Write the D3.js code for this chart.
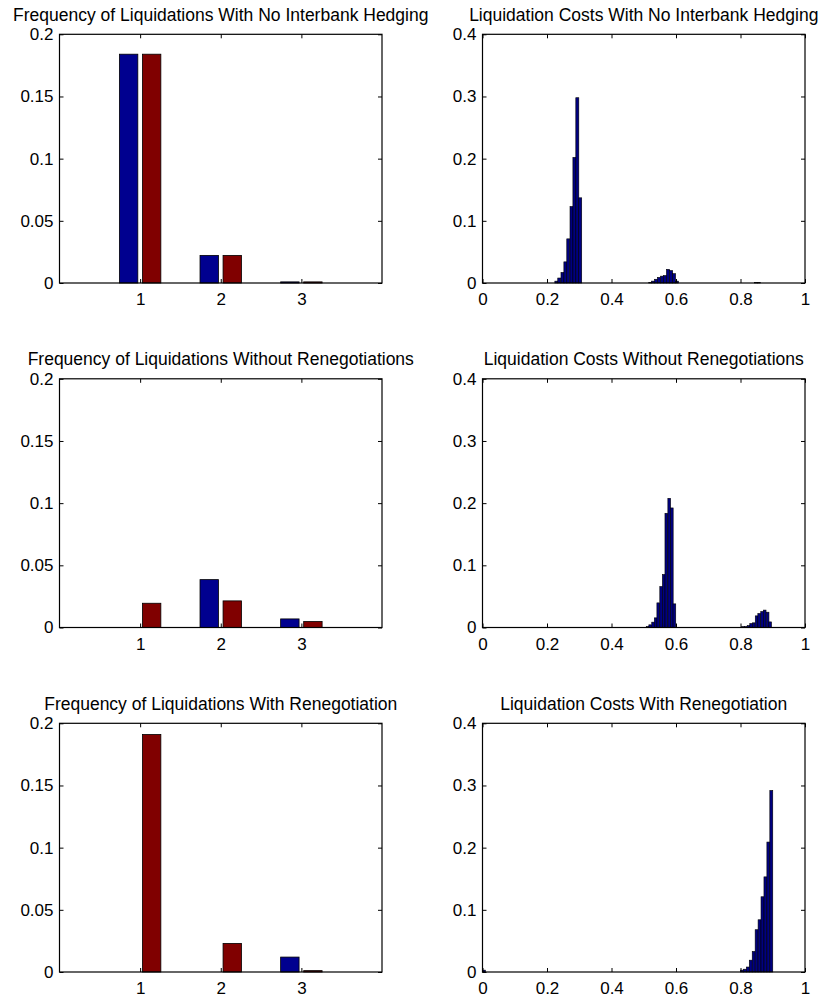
<!DOCTYPE html>
<html>
<head>
<meta charset="utf-8">
<script src="https://cdn.jsdelivr.net/npm/d3@7"></script>
<style>
  body { margin: 0; background: #fff; }
  svg text { font-family: "Liberation Sans", Arial, sans-serif; fill: #000; }
</style>
</head>
<body>
<script>
// ---- data ----
var freqCats = [1, 2, 3];

// left column: two series per category (blue, red)
var freqNoHedgingBlue = [0.184, 0.0222, 0.0009];
var freqNoHedgingRed  = [0.184, 0.0222, 0.0009];
var freqNoRenegBlue   = [0, 0.0385, 0.0069];
var freqNoRenegRed    = [0.0195, 0.0214, 0.0048];
var freqRenegBlue     = [0, 0, 0.012];
var freqRenegRed      = [0.191, 0.023, 0.0011];

// right column: histogram bin centres and bar heights
var costNoHedgingBins = [0.229, 0.238, 0.248, 0.257, 0.266, 0.276, 0.285, 0.294, 0.303,
  0.520, 0.529, 0.538, 0.547, 0.557, 0.566, 0.575, 0.585, 0.594, 0.603, 0.848, 0.857];
var costNoHedgingVals = [0.003, 0.008, 0.017, 0.034, 0.071, 0.123, 0.202, 0.298, 0.137,
  0.001, 0.003, 0.006, 0.009, 0.011, 0.012, 0.022, 0.020, 0.015, 0.003, 0.0008, 0.0008];

var costNoRenegBins = [0.512, 0.520, 0.529, 0.537, 0.545, 0.554, 0.562, 0.570, 0.579, 0.587, 0.595,
  0.808, 0.816, 0.825, 0.833, 0.841, 0.850, 0.858, 0.867, 0.875, 0.884, 0.892];
var costNoRenegVals = [0.0016, 0.0043, 0.0086, 0.0155, 0.0396, 0.0659, 0.0852, 0.1837, 0.2078, 0.1923, 0.038,
  0.0015, 0.0015, 0.003, 0.0064, 0.0075, 0.0187, 0.0225, 0.0257, 0.028, 0.0246, 0.009];

var costRenegBins = [0.0045, 0.8045, 0.8136, 0.8227, 0.8318, 0.8409, 0.850, 0.8591, 0.8682, 0.8773, 0.8864, 0.8955];
var costRenegVals = [0.003, 0.003, 0.0045, 0.008, 0.019, 0.033, 0.068, 0.084, 0.121, 0.153, 0.209, 0.292];

var freqTicksY = [0, 0.05, 0.1, 0.15, 0.2];
var costTicksY = [0, 0.1, 0.2, 0.3, 0.4];
var costTicksX = [0, 0.2, 0.4, 0.6, 0.8, 1];

// ---- layout ----
var W = 820, H = 997;
var COLX = [59.5, 482.5];
var AXW = 322.5;
var ROWY = [34.3, 378.8, 723.3];
var AXH = 248.7;
var TICK = 4;
var BLUE = '#00008f', RED = '#800000', HISTBLUE = '#000080';

var svg = d3.select('body').append('svg')
  .attr('width', W).attr('height', H);

function frame(g, x, y) {
  // box with inward ticks on all four sides (matlab style)
  g.append('g').attr('transform', 'translate(0,' + AXH + ')')
    .call(d3.axisBottom(x).tickValues(x.ticksList).tickFormat(x.fmt)
      .tickSizeInner(-TICK).tickSizeOuter(0).tickPadding(10));
  g.append('g')
    .call(d3.axisTop(x).tickValues(x.ticksList).tickFormat('')
      .tickSizeInner(-TICK).tickSizeOuter(0));
  g.append('g')
    .call(d3.axisLeft(y).tickValues(y.ticksList).tickFormat(d3.format('~g'))
      .tickSizeInner(-TICK).tickSizeOuter(0).tickPadding(6));
  g.append('g').attr('transform', 'translate(' + AXW + ',0)')
    .call(d3.axisRight(y).tickValues(y.ticksList).tickFormat('')
      .tickSizeInner(-TICK).tickSizeOuter(0));
  g.selectAll('.domain').remove();
  g.selectAll('.tick line').attr('stroke', '#000');
  g.selectAll('.tick text').style('font-size', '17px');
  g.append('rect')
    .attr('width', AXW).attr('height', AXH)
    .attr('fill', 'none').attr('stroke', '#000').attr('stroke-width', 1.2);
}

function addTitle(g, title) {
  g.append('text')
    .attr('x', AXW / 2).attr('y', -13.6)
    .attr('text-anchor', 'middle')
    .style('font-size', '17.5px')
    .text(title);
}

function drawFreq(row, title, blue, red) {
  var g = svg.append('g').attr('transform', 'translate(' + COLX[0] + ',' + ROWY[row] + ')');
  var x = d3.scaleLinear().domain([0, 4]).range([0, AXW]);
  x.ticksList = freqCats; x.fmt = d3.format('d');
  var y = d3.scaleLinear().domain([0, 0.2]).range([AXH, 0]);
  y.ticksList = freqTicksY;

  // grouped bars, same geometry matlab uses for 2 series
  var groupW = 2 / 3.5, barW = groupW / 2 * 0.8;
  var series = [{ vals: blue, color: BLUE, off: -groupW / 4 }, { vals: red, color: RED, off: groupW / 4 }];
  series.forEach(function(s) {
    g.selectAll(null)
      .data(freqCats)
      .enter().append('rect')
      .attr('x', function(d) { return x(d + s.off - barW / 2); })
      .attr('width', x(barW) - x(0))
      .attr('y', function(d, i) { return y(s.vals[i]); })
      .attr('height', function(d, i) { return y(0) - y(s.vals[i]); })
      .attr('fill', s.color)
      .attr('stroke', '#000').attr('stroke-width', 0.8);
  });
  frame(g, x, y);
  addTitle(g, title);
}

function drawCost(row, title, bins, vals, binW) {
  var g = svg.append('g').attr('transform', 'translate(' + COLX[1] + ',' + ROWY[row] + ')');
  var x = d3.scaleLinear().domain([0, 1]).range([0, AXW]);
  x.ticksList = costTicksX; x.fmt = d3.format('~g');
  var y = d3.scaleLinear().domain([0, 0.4]).range([AXH, 0]);
  y.ticksList = costTicksY;

  g.selectAll(null)
    .data(bins)
    .enter().append('rect')
    .attr('x', function(d) { return x(d - binW / 2); })
    .attr('width', x(binW) - x(0))
    .attr('y', function(d, i) { return y(vals[i]); })
    .attr('height', function(d, i) { return y(0) - y(vals[i]); })
    .attr('fill', HISTBLUE)
    .attr('stroke', '#000').attr('stroke-width', 0.6);
  frame(g, x, y);
  addTitle(g, title);
}

drawFreq(0, 'Frequency of Liquidations With No Interbank Hedging', freqNoHedgingBlue, freqNoHedgingRed);
drawFreq(1, 'Frequency of Liquidations Without Renegotiations', freqNoRenegBlue, freqNoRenegRed);
drawFreq(2, 'Frequency of Liquidations With Renegotiation', freqRenegBlue, freqRenegRed);

drawCost(0, 'Liquidation Costs With No Interbank Hedging', costNoHedgingBins, costNoHedgingVals, 0.0093);
drawCost(1, 'Liquidation Costs Without Renegotiations', costNoRenegBins, costNoRenegVals, 0.0084);
drawCost(2, 'Liquidation Costs With Renegotiation', costRenegBins, costRenegVals, 0.0091);
</script>
</body>
</html>
